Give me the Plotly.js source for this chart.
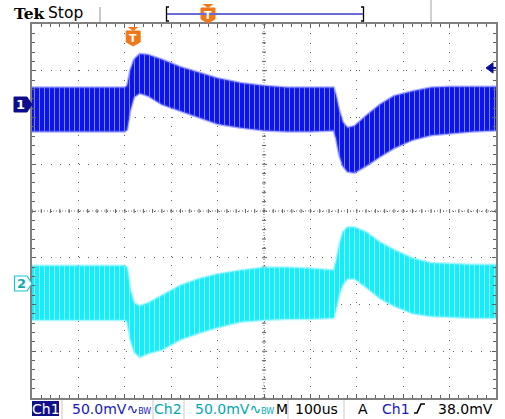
<!DOCTYPE html>
<html><head><meta charset="utf-8">
<script src="https://cdn.plot.ly/plotly-3.0.1.min.js"></script>
<style>html,body{margin:0;padding:0;background:#fff;}#scope{width:505px;height:419px;}</style>
</head><body><div id="scope"></div>
<script>
// Sample times across the 10-division record (100 us/div)
const timeUs = [0,100,200,205,212,220,232,250,280,320,360,400,450,500,550,600,650,655,662,670,680,695,720,750,780,820,860,900,950,1000];
// Ripple envelope of each channel, mV relative to its ground marker
const ch1Upper = [17,17,17,19,36,47,53,52,47,39,33,27,22,19,17,17,17,9,-7,-20,-26,-24,-13,-1,8,13,17,18,18,18];
const ch1Lower = [-30,-30,-30,-28,-7,7,11,8,-1,-8,-15,-22,-26,-29,-30,-30,-29,-37,-55,-67,-73,-74,-67,-57,-48,-39,-34,-32,-30,-29];
const ch2Upper = [19,19,19,17,-7,-21,-24,-21,-13,-2,5,10,14,17,17,16,14,23,41,55,60,60,55,44,36,27,22,21,20,20];
const ch2Lower = [-39,-39,-39,-41,-60,-73,-79,-75,-71,-60,-53,-47,-41,-39,-38,-38,-37,-28,-12,-1,5,5,-4,-16,-24,-32,-35,-36,-37,-37];

const ch1Label = "Ch1", ch2Label = "Ch2";
const ch1Scale = "50.0mV", ch2Scale = "50.0mV";
const timebase = "100us";
const trigSource = "Ch1";
const trigLevelText = "38.0mV";
const trigLevel = 38.0;      // mV, Ch1
const trigTime = 218;        // us from left edge
const mvPerDiv = 50;
const ch1Offset = 2.3 * mvPerDiv;   // ground marker positions
const ch2Offset = -1.55 * mvPerDiv;

const L = 32, R = 496, T = 24, B = 398;
const px = x => (x - L) / (R - L);
const py = y => (B - y) / (B - T);

function band(upper, lower, off, edge, bg, fg) {
  return [
    {x: timeUs, y: upper.map(v => v + off), mode: 'lines', line: {color: edge, width: 2.5}, hoverinfo: 'skip'},
    {x: timeUs, y: lower.map(v => v + off), mode: 'lines', line: {color: edge, width: 2.5}, hoverinfo: 'skip',
     fill: 'tonexty', fillcolor: bg,
     fillpattern: {shape: '|', bgcolor: bg, fgcolor: fg, size: 5, solidity: 0.2}}
  ];
}

const traces = [
  ...band(ch1Upper, ch1Lower, ch1Offset, 'rgba(70,80,255,0.45)', '#0c14ee', '#7c86ff'),
  ...band(ch2Upper, ch2Lower, ch2Offset, 'rgba(90,240,255,0.5)', '#12eefc', '#a0f6ff')
];

const shapes = [];
const gridGray = '#606060';
// centre crosshair with small ticks every 1/5 division
shapes.push({type: 'line', xref: 'x', yref: 'y', x0: 500, x1: 500, y0: -200, y1: 200, line: {color: '#777', width: 1, dash: '1px,2px'}, layer: 'below'});
shapes.push({type: 'line', xref: 'x', yref: 'y', x0: 0, x1: 1000, y0: 0, y1: 0, line: {color: '#777', width: 1, dash: '1px,2px'}, layer: 'below'});
for (let v = -200; v <= 200; v += 10) {
  shapes.push({type: 'line', xref: 'x', yref: 'y', x0: 495.7, x1: 504.3, y0: v, y1: v, line: {color: gridGray, width: 1}, layer: 'below'});
}
for (let t = 0; t <= 1000; t += 20) {
  shapes.push({type: 'line', xref: 'x', yref: 'y', x0: t, x1: t, y0: -2.2, y1: 2.2, line: {color: gridGray, width: 1}, layer: 'below'});
}

// channel ground markers
shapes.push({type: 'path', xref: 'paper', yref: 'paper',
  path: `M${px(14)},${py(97)} L${px(27)},${py(97)} L${px(32)},${py(104.5)} L${px(27)},${py(112)} L${px(14)},${py(112)} Z`,
  fillcolor: '#0c0c8c', line: {color: '#0c0c8c', width: 1}});
shapes.push({type: 'path', xref: 'paper', yref: 'paper',
  path: `M${px(14.5)},${py(276)} L${px(27)},${py(276)} L${px(32)},${py(283.5)} L${px(27)},${py(291)} L${px(14.5)},${py(291)} Z`,
  fillcolor: '#ffffff', line: {color: '#10c8d0', width: 1.2}});

// trigger level arrow on the right edge
const trigY = trigLevel + ch1Offset;
shapes.push({type: 'path', xref: 'paper', yref: 'y',
  path: `M${px(486)},${trigY} L${px(493)},${trigY + 5.5} L${px(493)},${trigY - 5.5} Z`,
  fillcolor: '#0c0c9c', line: {color: '#0c0c9c', width: 1}});
shapes.push({type: 'line', xref: 'paper', yref: 'y', x0: px(492), x1: px(496), y0: trigY, y1: trigY, line: {color: '#0c0c9c', width: 2}});

// trigger position marker at the top of the graticule
function tMarker(cx, top) {
  shapes.push({type: 'path', xref: 'paper', yref: 'paper',
    path: `M${px(cx - 5.5)},${py(top)} L${px(cx + 5.5)},${py(top)} L${px(cx)},${py(top + 4)} Z`,
    fillcolor: '#f07818', line: {width: 0}});
  shapes.push({type: 'path', xref: 'paper', yref: 'paper',
    path: `M${px(cx - 7)},${py(top + 4)} L${px(cx + 7)},${py(top + 4)} L${px(cx + 7)},${py(top + 15)} L${px(cx)},${py(top + 19)} L${px(cx - 7)},${py(top + 15)} Z`,
    fillcolor: '#f07818', line: {color: '#f07818', width: 1}});
}
tMarker(L + trigTime * (R - L) / 1000, 27);
tMarker(208, 4);

// record view bar
shapes.push({type: 'line', xref: 'paper', yref: 'paper', x0: px(167), x1: px(363), y0: py(14), y1: py(14), line: {color: '#6a6ad8', width: 2}});
shapes.push({type: 'path', xref: 'paper', yref: 'paper',
  path: `M${px(169)},${py(7)} L${px(166.5)},${py(7)} L${px(166.5)},${py(21)} L${px(169)},${py(21)}`, line: {color: '#000', width: 1.3}});
shapes.push({type: 'path', xref: 'paper', yref: 'paper',
  path: `M${px(361)},${py(7)} L${px(363.5)},${py(7)} L${px(363.5)},${py(21)} L${px(361)},${py(21)}`, line: {color: '#000', width: 1.3}});
shapes.push({type: 'line', xref: 'paper', yref: 'paper', x0: px(100), x1: px(100), y0: py(7), y1: py(22), line: {color: '#b8b8b8', width: 1.5}});
shapes.push({type: 'line', xref: 'paper', yref: 'paper', x0: px(431), x1: px(431), y0: py(0), y1: py(22), line: {color: '#d0d0d0', width: 2}});

// status bar cells
shapes.push({type: 'rect', xref: 'paper', yref: 'paper', x0: px(32), x1: px(59), y0: py(401), y1: py(416), fillcolor: '#10108a', line: {width: 0}});
[62, 153, 184, 288, 344].forEach(x => shapes.push({type: 'line', xref: 'paper', yref: 'paper', x0: px(x), x1: px(x), y0: py(400), y1: py(419), line: {color: '#c8c8c8', width: 1}}));
// rising-edge slope symbol
shapes.push({type: 'path', xref: 'paper', yref: 'paper',
  path: `M${px(414)},${py(413)} L${px(417)},${py(413)} L${px(421)},${py(404)} L${px(425)},${py(404)}`, line: {color: '#000', width: 1.6}});

const F = 'DejaVu Sans';
function txt(x, y, text, color, size, anchor, family) {
  return {xref: 'paper', yref: 'paper', x: px(x), y: py(y), text: text, showarrow: false,
    xanchor: anchor || 'left', yanchor: 'middle', borderpad: 0,
    font: {family: family || F, size: size || 14, color: color || '#000'}};
}
const bw = "<span style='font-size:8px'>B</span><span style='font-size:8px'>W</span>";
const annotations = [
  txt(13, 13, '<b>Tek</b>', '#000', 15.5, 'left', 'DejaVu Serif'),
  txt(47, 13, 'Stop', '#000', 15.5),
  txt(20.5, 104.5, '<b>1</b>', '#fff', 13, 'center'),
  txt(21, 283.5, '<b>2</b>', '#10a8b0', 13, 'center'),
  txt(L + trigTime * (R - L) / 1000, 38.5, '<b>T</b>', '#fff', 11, 'center'),
  txt(208, 15.5, '<b>T</b>', '#fff', 11, 'center'),
  txt(45.5, 409, ch1Label, '#fff', 14, 'center'),
  txt(71, 409, ch1Scale + '∿' + bw, '#1818c0', 14),
  txt(153, 409, ch2Label, '#00a8b0', 14),
  txt(194, 409, ch2Scale + '∿' + bw, '#00a8b0', 14),
  txt(275, 409, 'M', '#000', 14),
  txt(294, 409, timebase, '#000', 14),
  txt(357, 409, 'A', '#000', 14),
  txt(381, 409, trigSource, '#1818c0', 14),
  txt(437, 409, trigLevelText, '#000', 14)
];

const layout = {
  width: 505, height: 419,
  margin: {l: L, r: 505 - R, t: T, b: 419 - B, pad: 0},
  paper_bgcolor: '#fff', plot_bgcolor: '#fff',
  showlegend: false,
  xaxis: {range: [0, 1000], dtick: 100, tick0: 0, showticklabels: false, zeroline: false,
    showgrid: true, gridcolor: gridGray, griddash: '1px,8.28px', gridwidth: 1,
    showline: true, linecolor: '#808080', linewidth: 2, mirror: 'allticks',
    ticks: 'inside', ticklen: 4, tickcolor: '#606060',
    minor: {dtick: 20, ticks: 'inside', ticklen: 3, tickcolor: '#606060', showgrid: false}},
  yaxis: {range: [-200, 200], dtick: 50, tick0: 0, showticklabels: false, zeroline: false,
    showgrid: true, gridcolor: gridGray, griddash: '1px,8.35px', gridwidth: 1,
    showline: true, linecolor: '#808080', linewidth: 2, mirror: 'allticks',
    ticks: 'inside', ticklen: 4, tickcolor: '#606060',
    minor: {dtick: 10, ticks: 'inside', ticklen: 3, tickcolor: '#606060', showgrid: false}},
  shapes: shapes,
  annotations: annotations
};

Plotly.newPlot('scope', traces, layout, {staticPlot: true, displayModeBar: false});
</script>
</body></html>
